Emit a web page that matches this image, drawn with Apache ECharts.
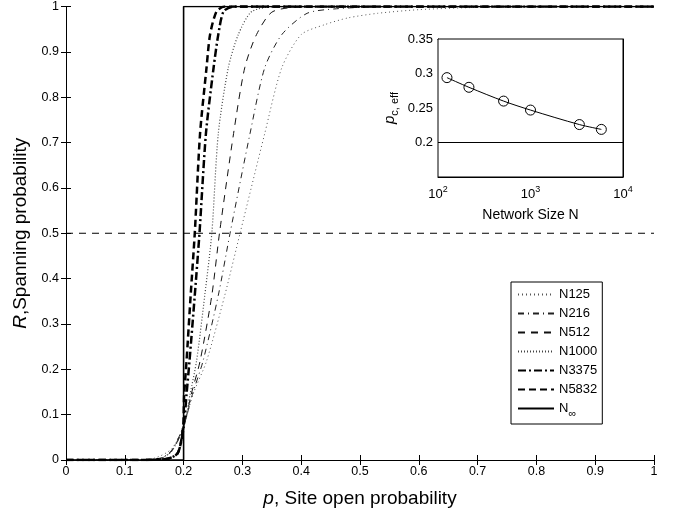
<!DOCTYPE html>
<html>
<head>
<meta charset="utf-8">
<script src="https://cdn.jsdelivr.net/npm/echarts@6/dist/echarts.min.js"></script>
<style>
  html, body { margin: 0; padding: 0; background: #fff; }
  #chart { width: 673px; height: 513px; }
</style>
</head>
<body>
<div id="chart"></div>
<script>
// spanning probability curves
const p125 = [0, 0.1, 0.15, 0.18, 0.2, 0.216, 0.239, 0.27, 0.296, 0.338, 0.367, 0.4, 0.44, 0.48, 0.53, 0.6, 0.7, 0.85, 1]
const r125 = [0, 0, 0.004, 0.025, 0.075, 0.145, 0.218, 0.363, 0.5, 0.72, 0.865, 0.938, 0.96, 0.975, 0.985, 0.993, 0.998, 1, 1]

const p216 = [0, 0.1, 0.16, 0.18, 0.2, 0.215, 0.233, 0.259, 0.279, 0.313, 0.338, 0.367, 0.41, 0.46, 0.55, 1]
const r216 = [0, 0, 0.004, 0.022, 0.075, 0.145, 0.218, 0.363, 0.5, 0.72, 0.865, 0.938, 0.985, 0.995, 1, 1]

const p512 = [0, 0.1, 0.16, 0.18, 0.2, 0.213, 0.228, 0.248, 0.261, 0.285, 0.304, 0.324, 0.352, 0.42, 1]
const r512 = [0, 0, 0.003, 0.02, 0.072, 0.145, 0.218, 0.363, 0.5, 0.72, 0.865, 0.938, 0.989, 1, 1]

const p1000 = [0, 0.1, 0.16, 0.18, 0.2, 0.211, 0.222, 0.236, 0.248, 0.259, 0.276, 0.293, 0.316, 0.36, 1]
const r1000 = [0, 0, 0.003, 0.02, 0.072, 0.145, 0.218, 0.363, 0.5, 0.72, 0.865, 0.938, 0.989, 1, 1]

const p3375 = [0, 0.1, 0.17, 0.19, 0.2, 0.205, 0.21, 0.219, 0.227, 0.238, 0.251, 0.259, 0.268, 0.285, 1]
const r3375 = [0, 0, 0.002, 0.015, 0.072, 0.145, 0.218, 0.363, 0.5, 0.72, 0.865, 0.938, 0.989, 1, 1]

const p5832 = [0, 0.1, 0.17, 0.19, 0.199, 0.201, 0.205, 0.212, 0.219, 0.228, 0.239, 0.245, 0.256, 0.27, 1]
const r5832 = [0, 0, 0.002, 0.015, 0.07, 0.145, 0.218, 0.363, 0.5, 0.72, 0.865, 0.938, 0.989, 1, 1]

// infinite lattice: step at p_c = 0.2
const pInf = [0, 0.2, 0.2, 1]
const rInf = [0, 0, 1, 1]

// inset: effective threshold vs network size
const netSizes = [125, 216, 512, 1000, 3375, 5832]
const pcEff = [0.294, 0.280, 0.260, 0.247, 0.226, 0.219]
const pcInf = 0.2

const font = 'Liberation Sans'
const zip = (xs, ys) => xs.map((x, i) => [x, ys[i]])

const chart = echarts.init(document.getElementById('chart'))

// one entry per curve; style only
function curve(name, xs, ys, width, type, color) {
  return {
    name: name,
    type: 'line',
    xAxisIndex: 0,
    yAxisIndex: 0,
    data: zip(xs, ys),
    symbol: 'none',
    smooth: 0.25,
    lineStyle: { width: width, type: type, color: color },
    itemStyle: { color: color },
    z: 3
  }
}

const option = {
  animation: false,
  backgroundColor: '#fff',
  textStyle: { fontFamily: font },
  grid: [
    { left: 66, right: 19, top: 5, bottom: 50 },
    { left: 438, right: 50, top: 39, bottom: 336, show: true, backgroundColor: '#fff', borderColor: '#000', borderWidth: 1, z: 5 }
  ],
  legend: {
    left: 511,
    top: 282,
    orient: 'vertical',
    backgroundColor: '#fff',
    borderColor: '#000',
    borderWidth: 1,
    padding: [6, 5, 5, 6],
    itemGap: 6,
    itemWidth: 36,
    itemHeight: 12.5,
    itemStyle: { opacity: 0 },
    data: ['N125', 'N216', 'N512', 'N1000', 'N3375', 'N5832', 'N∞'],
    formatter: name => name === 'N∞' ? 'N{sub|∞}' : name,
    textStyle: {
      fontFamily: font,
      fontSize: 13,
      color: '#000',
      rich: {
        sub: { fontSize: 11, fontFamily: font, padding: [10, 0, 0, 0] }
      }
    }
  },
  xAxis: [
    {
      type: 'value', gridIndex: 0, min: 0, max: 1, interval: 0.1,
      name: '{i|p}, Site open probability',
      nameLocation: 'middle', nameGap: 29,
      nameTextStyle: { fontSize: 19, color: '#000', fontFamily: font, rich: { i: { fontStyle: 'italic', fontSize: 19, fontFamily: font } } },
      axisLine: { lineStyle: { color: '#000', width: 1 } },
      axisTick: { inside: true, length: 5, lineStyle: { color: '#000' } },
      axisLabel: { color: '#000', fontSize: 12.5, margin: 5 },
      splitLine: { show: false }
    },
    {
      type: 'value', gridIndex: 0, min: 0, max: 1, interval: 0.1, position: 'top',
      axisLine: { lineStyle: { color: '#000', width: 1 } },
      axisTick: { inside: true, length: 5, lineStyle: { color: '#000' } },
      axisLabel: { show: false },
      splitLine: { show: false }
    },
    {
      type: 'log', gridIndex: 1, min: 100, max: 10000, logBase: 10,
      name: 'Network Size N',
      nameLocation: 'middle', nameGap: 31,
      nameTextStyle: { fontSize: 14, color: '#000', fontFamily: font },
      axisLine: { lineStyle: { color: '#000', width: 1 } },
      axisTick: { inside: true, length: 4, lineStyle: { color: '#000' } },
      minorTick: { show: true, splitNumber: 9, length: 2, lineStyle: { color: '#000' } },
      axisLabel: {
        color: '#000', fontSize: 13, margin: 8,
        formatter: v => '10{sup|' + Math.round(Math.log10(v)) + '}',
        rich: { sup: { fontSize: 9, padding: [0, 0, 10, 0], fontFamily: font } }
      },
      splitLine: { show: false }
    },
    {
      type: 'log', gridIndex: 1, min: 100, max: 10000, logBase: 10, position: 'top',
      axisLine: { lineStyle: { color: '#000', width: 1 } },
      axisTick: { inside: true, length: 4, lineStyle: { color: '#000' } },
      minorTick: { show: true, splitNumber: 9, length: 2, lineStyle: { color: '#000' } },
      axisLabel: { show: false },
      splitLine: { show: false }
    }
  ],
  yAxis: [
    {
      type: 'value', gridIndex: 0, min: 0, max: 1, interval: 0.1,
      name: '{i|R},Spanning probability',
      nameLocation: 'middle', nameGap: 36,
      nameTextStyle: { fontSize: 19, color: '#000', fontFamily: font, rich: { i: { fontStyle: 'italic', fontSize: 19, fontFamily: font } } },
      axisLine: { show: true, lineStyle: { color: '#000', width: 1 } },
      axisTick: { show: true, inside: true, length: 5, lineStyle: { color: '#000' } },
      axisLabel: { color: '#000', fontSize: 12.5, margin: 7 },
      splitLine: { show: false }
    },
    {
      type: 'value', gridIndex: 0, min: 0, max: 1, interval: 0.1, position: 'right',
      axisLine: { show: true, lineStyle: { color: '#000', width: 1 } },
      axisTick: { show: true, inside: true, length: 5, lineStyle: { color: '#000' } },
      axisLabel: { show: false },
      splitLine: { show: false }
    },
    {
      type: 'value', gridIndex: 1, min: 0.15, max: 0.35, interval: 0.05,
      name: '{i|p}{sub|c, eff}',
      nameLocation: 'middle', nameGap: 38,
      nameTextStyle: {
        fontSize: 14, color: '#000', fontFamily: font,
        rich: {
          i: { fontStyle: 'italic', fontSize: 15, fontFamily: font },
          sub: { fontSize: 11, fontFamily: font, padding: [9, 0, 0, 0] }
        }
      },
      axisLine: { show: true, lineStyle: { color: '#000', width: 1 } },
      axisTick: { show: true, inside: true, length: 4, lineStyle: { color: '#000' } },
      axisLabel: { color: '#000', fontSize: 13, margin: 5, showMinLabel: false },
      splitLine: { show: false }
    },
    {
      type: 'value', gridIndex: 1, min: 0.15, max: 0.35, interval: 0.05, position: 'right',
      axisLine: { show: true, lineStyle: { color: '#000', width: 1 } },
      axisTick: { show: true, inside: true, length: 4, lineStyle: { color: '#000' } },
      axisLabel: { show: false },
      splitLine: { show: false }
    }
  ],
  series: [
    curve('N125', p125, r125, 1, [1, 3], '#555'),
    curve('N216', p216, r216, 1, [6, 4, 1, 4], '#222'),
    curve('N512', p512, r512, 1, [7, 6], '#111'),
    curve('N1000', p1000, r1000, 1.2, [1, 2], '#444'),
    curve('N3375', p3375, r3375, 2.5, [8, 3, 2, 3], '#000'),
    curve('N5832', p5832, r5832, 2.5, [7, 4], '#000'),
    {
      name: 'N∞', type: 'line', xAxisIndex: 0, yAxisIndex: 0,
      data: zip(pInf, rInf), symbol: 'none',
      lineStyle: { width: 1.6, color: '#000' }, itemStyle: { color: '#000' }, z: 4
    },
    {
      name: 'half', type: 'line', xAxisIndex: 0, yAxisIndex: 0,
      data: [[0, 0.5], [1, 0.5]], symbol: 'none',
      lineStyle: { width: 1, type: [7, 6], color: '#000' }, z: 2
    },
    {
      name: 'pc inf', type: 'line', xAxisIndex: 2, yAxisIndex: 2,
      data: [[100, pcInf], [10000, pcInf]], symbol: 'none',
      lineStyle: { width: 1, color: '#000' }, z: 6
    },
    {
      name: 'pc eff', type: 'line', xAxisIndex: 2, yAxisIndex: 2,
      data: zip(netSizes, pcEff),
      smooth: 0.3,
      symbol: 'circle', symbolSize: 10,
      lineStyle: { width: 1, color: '#000' },
      itemStyle: { color: 'rgba(0,0,0,0)', borderColor: '#000', borderWidth: 1 },
      z: 6
    }
  ]
}

chart.setOption(option)
</script>
</body>
</html>
